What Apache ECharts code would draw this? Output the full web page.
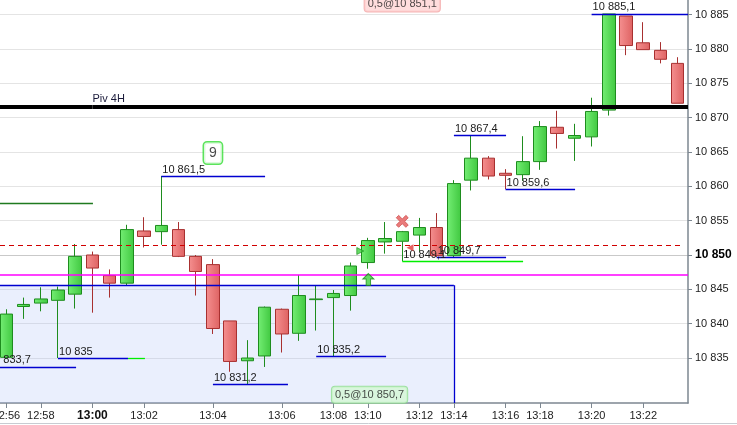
<!DOCTYPE html>
<html><head><meta charset="utf-8">
<script src="https://cdn.jsdelivr.net/npm/echarts@6/dist/echarts.min.js"></script>
<style>html,body{margin:0;padding:0;background:#fff;overflow:hidden}#c{width:737px;height:425px}</style>
</head><body><div id="c"></div>
<script>
// ---- data ----
const opens  = [10835.1,10842.5,10843.0,10843.4,10844.3,10850.0,10847.0,10845.9,10853.5,10853.4,10853.7,10849.8,10848.6,10840.4,10834.6,10835.3,10842.1,10838.6,10843.5,10843.8,10844.1,10848.9,10851.9,10852.0,10852.9,10854.0,10849.9,10860.9,10864.1,10861.9,10861.7,10863.6,10868.6,10867.0,10867.2,10871.1,10884.8,10880.9,10879.8,10877.9];
const closes = [10841.4,10842.8,10843.6,10844.9,10849.8,10848.1,10845.9,10853.7,10852.7,10854.3,10849.8,10847.6,10839.3,10834.5,10835.0,10842.4,10838.5,10844.1,10843.6,10844.4,10848.4,10852.1,10852.4,10853.4,10854.0,10849.9,10860.4,10864.1,10861.5,10861.6,10863.6,10868.7,10867.7,10867.4,10870.9,10885.1,10880.5,10879.9,10878.5,10872.1];
const lows   = [10834.9,10840.7,10841.8,10835.0,10842.2,10841.6,10843.8,10845.6,10851.1,10851.5,10849.7,10844.1,10838.5,10833.0,10831.2,10833.7,10835.8,10837.5,10839.0,10835.2,10841.9,10848.0,10850.2,10849.1,10850.5,10849.7,10849.7,10859.4,10861.0,10859.6,10860.8,10862.4,10865.5,10863.7,10865.8,10870.3,10879.1,10879.9,10877.9,10872.1];
const highs  = [10842.1,10843.8,10845.3,10845.4,10851.6,10850.5,10847.9,10854.4,10855.5,10861.5,10854.8,10850.0,10849.4,10840.4,10837.6,10842.5,10842.2,10847.1,10845.5,10844.9,10848.9,10852.5,10854.8,10853.5,10855.4,10856.1,10860.9,10867.4,10864.4,10862.5,10867.3,10869.5,10871.0,10869.1,10872.9,10885.1,10884.8,10883.9,10881.0,10878.8];

const timeTickIndex  = [0,2,5,8,12,16,19,21,24,26,29,31,34,37];
const timeTickLabels = ['12:56','12:58','13:00','13:02','13:04','13:06','13:08','13:10','13:12','13:14','13:16','13:18','13:20','13:22'];
const priceTicks = [10835,10840,10845,10850,10855,10860,10865,10870,10875,10880,10885];

const X_MIN = -0.37, X_MAX = 39.6, Y_MIN = 10828.45, Y_MAX = 10887.13;

// horizontal level segments (bar index from/to, price, text, kind)
const levelFrom   = [X_MIN, 3, 7.07, X_MIN, 9, 12, 18, 23, 25, 26, 29, 34];
const levelTo     = [4.05, 7.07, 8.05, 5.03, 15.03, 16.36, 22.06, 30.02, 29.03, 29.03, 33.04, X_MAX];
const levelPrice  = [10833.7, 10835, 10835, 10857.6, 10861.5, 10831.2, 10835.2, 10849.1, 10849.7, 10867.4, 10859.6, 10885.1];
const levelText   = ['10 833,7','10 835','','','10 861,5','10 831,2','10 835,2','10 849,1','10 849,7','10 867,4','10 859,6','10 885,1'];
const levelKind   = ['blue','blue','green','dark','blue','blue','blue','green','blue','blue','blue','blue'];

const pivotPrice = 10871.54, pivotLabelAt = 5, pivotText = 'Piv 4H';
const magentaPrice = 10847.19;
const dashedPrice = 10851.46;
const zoneTop = 10845.6, zoneEnd = 26;

const crossMarker = [23, 10854.9];
const sellFlag = [23.45, 10851.06];
const buyFlag = [20.56, 10850.58];
const upArrow = [21.03, 10846.43];
const sellBox = [23, 10886.62, '0,5@10 851,1'];
const buyBox = [21.1, 10829.65, '0,5@10 850,7'];
const countBox = [12, 10864.85, '9'];

// ---- styles ----
const FONT = "'Liberation Sans', Arial, sans-serif";
const kindColor = {blue:'#0000d0', green:'#00ee00', dark:'#1f7a1f'};
const fmt = v => { const s = String(Math.round(v)); return s.slice(0, s.length-3) + ' ' + s.slice(-3); };

const candleData = opens.map((o,i)=>[i, o, closes[i], lows[i], highs[i]]);

const segLabel = (t, dx) => ({show: !!t, formatter: t, position:'insideStartTop', distance:[dx,1], color:'#1a1a1a', fontSize:11, fontFamily:FONT});
const markLines = [];
levelFrom.forEach((f,i)=>{
  markLines.push([
    {coord:[f, levelPrice[i]], lineStyle:{color:kindColor[levelKind[i]], width:1.3, type:'solid'}, label:segLabel(levelText[i], f===X_MIN ? -12 : 1)},
    {coord:[levelTo[i], levelPrice[i]]}
  ]);
});
// pivot
markLines.push([{coord:[X_MIN, pivotPrice], lineStyle:{color:'#000', width:4, type:'solid'}, label:{show:false}},{coord:[pivotLabelAt, pivotPrice]}]);
markLines.push([{coord:[pivotLabelAt, pivotPrice], lineStyle:{color:'#000', width:4, type:'solid'}, label:{show:true, formatter:pivotText, position:'insideStartTop', distance:[0,3], color:'#1a1a3a', fontSize:11, fontFamily:FONT}},{coord:[X_MAX, pivotPrice]}]);
// magenta & dashed
markLines.push([{coord:[X_MIN, magentaPrice], lineStyle:{color:'#ff00ff', width:1.6, type:'solid'}, label:{show:false}},{coord:[X_MAX, magentaPrice]}]);
markLines.push([{coord:[X_MIN, dashedPrice], lineStyle:{color:'#d00000', width:1, type:[5,4]}, label:{show:false}},{coord:[X_MAX-0.3, dashedPrice]}]);
// zone border
markLines.push([{coord:[X_MIN, zoneTop], lineStyle:{color:'#0000d0', width:1.3, type:'solid'}, label:{show:false}},{coord:[zoneEnd, zoneTop]}]);
markLines.push([{coord:[zoneEnd, zoneTop], lineStyle:{color:'#0000d0', width:1.3, type:'solid'}, label:{show:false}},{coord:[zoneEnd, Y_MIN]}]);

const greenFill = {type:'linear',x:0,y:0,x2:1,y2:0,colorStops:[{offset:0,color:'#74ee74'},{offset:1,color:'#40c840'}]};
const redFill = {type:'linear',x:0,y:0,x2:1,y2:0,colorStops:[{offset:0,color:'#f59090'},{offset:1,color:'#de6262'}]};

const boxLabel = (bg, border, bw, size, pad) => ({show:true, position:'inside', formatter:p=>p.data[2], backgroundColor:bg, borderColor:border, borderWidth:bw, borderRadius:3, padding:pad, fontSize:size, color:'#1a1a1a', fontFamily:FONT});

const chart = echarts.init(document.getElementById('c'), null, {renderer:'canvas'});
chart.setOption({
  animation:false,
  backgroundColor:'#fff',
  grid:{left:0, right:49, top:0, bottom:22, outerBoundsMode:'none', containLabel:false},
  xAxis:{
    type:'value', min:X_MIN, max:X_MAX,
    axisLine:{show:true, onZero:false, lineStyle:{color:'#7d8791', width:1.5}},
    axisTick:{show:true, customValues:timeTickIndex, length:5, lineStyle:{color:'#7d8791'}},
    axisLabel:{customValues:timeTickIndex, margin:7, fontSize:11, fontFamily:FONT, color:'#222',
      formatter:(v)=>{const i = timeTickIndex.indexOf(Math.round(v)); const t = timeTickLabels[i]; return t==='13:00' ? '{b|'+t+'}' : t;},
      rich:{b:{fontWeight:'bold', fontSize:12, fontFamily:FONT, color:'#111'}}},
    splitLine:{show:false}
  },
  yAxis:{
    type:'value', position:'right', min:Y_MIN, max:Y_MAX, scale:true,
    axisLine:{show:true, onZero:false, lineStyle:{color:'#7d8791', width:1.5}},
    axisTick:{show:true, customValues:priceTicks, length:4, lineStyle:{color:'#7d8791'}},
    axisLabel:{customValues:priceTicks, margin:7, fontSize:11, fontFamily:FONT, color:'#222',
      formatter:(v)=> Math.round(v)===10850 ? '{b|'+fmt(v)+'}' : fmt(v),
      rich:{b:{fontWeight:'bold', fontSize:12, fontFamily:FONT, color:'#000'}}},
    splitLine:{show:true, lineStyle:{color:['#e4e4e4','#e4e4e4','#e4e4e4','#c9c9c9','#e4e4e4','#e4e4e4','#e4e4e4','#e4e4e4','#e4e4e4','#e4e4e4','#e4e4e4'], width:1}}
  },
  series:[
    {
      type:'candlestick', data:candleData, barWidth:13, clip:true,
      itemStyle:{color:greenFill, color0:redFill, borderColor:'#1e8c1e', borderColor0:'#a83030', borderWidth:1},
      markArea:{silent:true, itemStyle:{color:'rgba(160,180,245,0.22)', borderWidth:0}, data:[[{coord:[X_MIN, zoneTop]},{coord:[zoneEnd, Y_MIN]}]]},
      markLine:{silent:true, symbol:['none','none'], animation:false, data:markLines}
    },
    {type:'scatter', symbol:'path://M2,0 L5,3 L8,0 L10,2 L7,5 L10,8 L8,10 L5,7 L2,10 L0,8 L3,5 L0,2 Z', symbolSize:12,
      itemStyle:{color:'#e35a5a', borderColor:'#c83a3a', borderWidth:0.8}, data:[crossMarker], z:6},
    {type:'scatter', symbol:'triangle', symbolSize:7, symbolRotate:90, itemStyle:{color:'#e03a3a'}, data:[sellFlag], z:6},
    {type:'scatter', symbol:'triangle', symbolSize:7, symbolRotate:-90, itemStyle:{color:'#3ecf3e', borderColor:'#1a8a1a', borderWidth:0.8}, data:[buyFlag], z:6},
    {type:'scatter', symbol:'path://M5,0 L10,5 L7,5 L7,11 L3,11 L3,5 L0,5 Z', symbolSize:[11,12], itemStyle:{color:'#3fcf3f', borderColor:'#1a8a1a', borderWidth:1}, data:[upArrow], z:6},
    {type:'scatter', symbolSize:1, itemStyle:{color:'rgba(0,0,0,0)'}, data:[sellBox], z:7, label:boxLabel('#ffd4d4','#f2a2a2',1,11,[3,3,2,3])},
    {type:'scatter', symbolSize:1, itemStyle:{color:'rgba(0,0,0,0)'}, data:[buyBox], z:7, label:boxLabel('#d4f7d4','#8cdc8c',1,11,[3,3,2,3])},
    {type:'scatter', symbolSize:1, itemStyle:{color:'rgba(0,0,0,0)'}, data:[countBox], z:7, label:boxLabel('#ffffff','#33dd33',1.5,14,[4,5,3,5])}
  ],
  graphic:[{type:'line', shape:{x1:0,y1:423.5,x2:737,y2:423.5}, style:{stroke:'#c8ccd2', lineWidth:1}, silent:true}]
});
</script></body></html>
